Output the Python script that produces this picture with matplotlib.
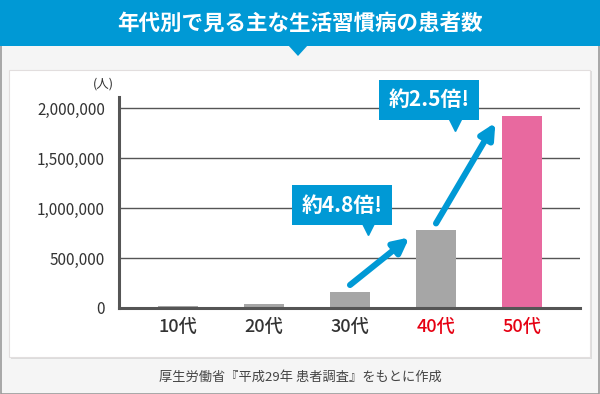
import matplotlib
matplotlib.use("Agg")
import matplotlib.pyplot as plt
from matplotlib.patches import Rectangle, Polygon
import numpy as np

plt.rcParams['font.family'] = ['Noto Sans CJK JP', 'DejaVu Sans']

# data
ages = ['10代', '20代', '30代', '40代', '50代']
patients = [22000, 42000, 160000, 776000, 1923000]
bar_colors = ['#a6a6a6', '#a6a6a6', '#a6a6a6', '#a6a6a6', '#e8699f']
label_colors = ['#333333', '#333333', '#333333', '#e60012', '#e60012']
ratios = ['約4.8倍!', '約2.5倍!']
title = '年代別で見る主な生活習慣病の患者数'
source = '厚生労働省『平成29年 患者調査』をもとに作成'

W, H = 600, 394
BLUE = '#0099d5'

fig = plt.figure(figsize=(W / 100, H / 100), dpi=100)
fig.patch.set_facecolor('#f5f5f5')

def px(x, y):
    return x / W, 1 - y / H

# outer border
fig.patches.append(Rectangle((0.5 / W, 0.5 / H), 1 - 1.5 / W, 1 - 1.5 / H,
                             transform=fig.transFigure, fill=False,
                             edgecolor='#9a9a9a', lw=1.2, zorder=0))
# title band
fig.patches.append(Rectangle(px(0, 46), 1, 46 / H, transform=fig.transFigure,
                             facecolor=BLUE, edgecolor='none', zorder=1))
fig.patches.append(Polygon([px(288, 45), px(308, 45), px(298, 56)],
                           transform=fig.transFigure, facecolor=BLUE,
                           edgecolor='none', zorder=1))
fig.text(0.5, 1 - 23 / H, title, color='white', fontsize=15.5,
         fontweight='bold', ha='center', va='center')

# white panel with shadow
fig.patches.append(Rectangle(px(11, 359), 581 / W, 288 / H,
                             transform=fig.transFigure, facecolor='#dcdcdc',
                             edgecolor='none', zorder=1))
fig.patches.append(Rectangle(px(9, 357), 581 / W, 287 / H,
                             transform=fig.transFigure, facecolor='white',
                             edgecolor='#e2dede', lw=0.8, zorder=1))

fig.text(0.5, 1 - 377 / H, source, color='#444444', fontsize=9.5,
         ha='center', va='center')

# axes: x axis at y=308, y axis at x=119, right end at x=580
ax = fig.add_axes([119 / W, 1 - 308 / H, 461 / W, 211 / H])
ax.set_facecolor('none')
ax.set_zorder(2)
x = np.arange(len(ages))
ax.set_xlim(-0.686, 4.674)
ax.set_ylim(0, 2110000)
ax.bar(x, patients, width=0.465, color=bar_colors, zorder=3)

ax.set_yticks([0, 500000, 1000000, 1500000, 2000000])
ax.set_yticklabels(['{:,}'.format(v) for v in ax.get_yticks().astype(int)])
ax.yaxis.grid(True, color='#555555', lw=1)
ax.set_axisbelow(True)
ax.tick_params(axis='y', length=0, pad=10, labelsize=11, labelcolor='#333333')
ax.set_xticks(x)
ax.set_xticklabels(ages, fontsize=13, fontweight='medium')
ax.tick_params(axis='x', length=0, pad=7)
for lab, c in zip(ax.get_xticklabels(), label_colors):
    lab.set_color(c)
for s in ['top', 'right']:
    ax.spines[s].set_visible(False)
for s in ['left', 'bottom']:
    ax.spines[s].set_color('#555555')
    ax.spines[s].set_linewidth(2.2)
    ax.spines[s].set_zorder(4)
ax.text(-0.87, 2240000, '(人)', fontsize=9, color='#333333', ha='center',
        va='center', clip_on=False)

# growth arrows and callouts
for k, i in enumerate([2, 3]):
    start = (i, patients[i] + 70000)
    end = (i + 0.69, patients[i + 1] - 70000)
    ax.annotate('', xy=end, xytext=start,
                arrowprops=dict(arrowstyle='-|>,head_length=0.9,head_width=0.45',
                                color=BLUE, lw=4.4, shrinkA=0, shrinkB=0),
                zorder=5, annotation_clip=False)
box_pos = [(1.91, 1030000), (2.92, 2080000)]
tip_pos = [(2.21, 790000), (3.22, 1830000)]
for (bx, by), (tx, ty), txt in zip(box_pos, tip_pos, ratios):
    ax.text(bx, by, txt, color='white', fontsize=15, fontweight='bold',
            ha='center', va='center', zorder=6, clip_on=False,
            bbox=dict(boxstyle='square,pad=0.45', facecolor=BLUE,
                      edgecolor='none'))
    ax.plot(tx, ty, marker='v', markersize=9, color=BLUE, zorder=6,
            clip_on=False)

fig.savefig('out.png', dpi=100, facecolor=fig.get_facecolor())
